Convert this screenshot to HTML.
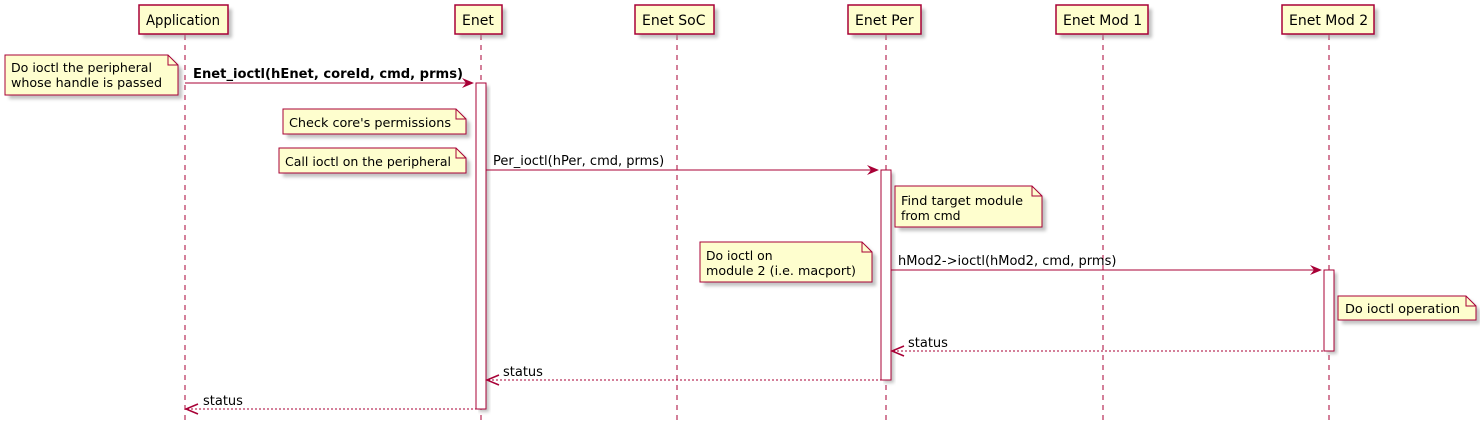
<!DOCTYPE html>
<html><head><meta charset="utf-8"><style>
html,body{margin:0;padding:0;background:#fff;}
svg{display:block;}
text{font-family:"DejaVu Sans","Liberation Sans",sans-serif;font-size:13px;fill:#000;}
text.p{font-size:14px;}
text.n{font-size:12.4px;}
</style></head><body>
<svg width="1480" height="433" viewBox="0 0 1480 433" xmlns="http://www.w3.org/2000/svg">
<defs>
<filter id="sh" x="-10%" y="-10%" width="130%" height="150%"><feGaussianBlur stdDeviation="1.5"/></filter>
</defs>
<g stroke="#A80036" stroke-width="1" stroke-dasharray="5,5" fill="none">
<line x1="185" y1="35" x2="185" y2="425"/>
<line x1="481" y1="35" x2="481" y2="425"/>
<line x1="677" y1="35" x2="677" y2="425"/>
<line x1="886" y1="35" x2="886" y2="425"/>
<line x1="1103" y1="35" x2="1103" y2="425"/>
<line x1="1329" y1="35" x2="1329" y2="425"/>
</g>
<g>
<rect x="143" y="9" width="89" height="29" fill="#999" filter="url(#sh)" opacity="0.6"/>
<rect x="139" y="5" width="89" height="29" fill="#FEFECE" stroke="#A80036" stroke-width="1.5"/>
<text class="p" x="146" y="25" textLength="74" lengthAdjust="spacingAndGlyphs">Application</text>
<rect x="459" y="9" width="47" height="29" fill="#999" filter="url(#sh)" opacity="0.6"/>
<rect x="455" y="5" width="47" height="29" fill="#FEFECE" stroke="#A80036" stroke-width="1.5"/>
<text class="p" x="462" y="25">Enet</text>
<rect x="639" y="9" width="79" height="29" fill="#999" filter="url(#sh)" opacity="0.6"/>
<rect x="635" y="5" width="79" height="29" fill="#FEFECE" stroke="#A80036" stroke-width="1.5"/>
<text class="p" x="642" y="25">Enet SoC</text>
<rect x="852" y="9" width="73" height="29" fill="#999" filter="url(#sh)" opacity="0.6"/>
<rect x="848" y="5" width="73" height="29" fill="#FEFECE" stroke="#A80036" stroke-width="1.5"/>
<text class="p" x="855" y="25">Enet Per</text>
<rect x="1060" y="9" width="92" height="29" fill="#999" filter="url(#sh)" opacity="0.6"/>
<rect x="1056" y="5" width="92" height="29" fill="#FEFECE" stroke="#A80036" stroke-width="1.5"/>
<text class="p" x="1063" y="25">Enet Mod 1</text>
<rect x="1286" y="9" width="92" height="29" fill="#999" filter="url(#sh)" opacity="0.6"/>
<rect x="1282" y="5" width="92" height="29" fill="#FEFECE" stroke="#A80036" stroke-width="1.5"/>
<text class="p" x="1289" y="25">Enet Mod 2</text>
</g>
<g>
<rect x="479" y="86" width="10" height="326" fill="#999" filter="url(#sh)" opacity="0.6"/>
<rect x="476" y="83" width="10" height="326" fill="#fff" stroke="#A80036"/>
<rect x="884" y="173" width="10" height="210" fill="#999" filter="url(#sh)" opacity="0.6"/>
<rect x="881" y="170" width="10" height="210" fill="#fff" stroke="#A80036"/>
<rect x="1327" y="273" width="10" height="81" fill="#999" filter="url(#sh)" opacity="0.6"/>
<rect x="1324" y="270" width="10" height="81" fill="#fff" stroke="#A80036"/>
</g>
<g stroke="#A80036" fill="none">
<line x1="185" y1="83" x2="473" y2="83"/>
<line x1="486" y1="170" x2="878" y2="170"/>
<line x1="891" y1="270" x2="1321" y2="270"/>
<line x1="893" y1="351" x2="1324" y2="351" stroke-dasharray="2,2"/>
<line x1="488" y1="380" x2="881" y2="380" stroke-dasharray="2,2"/>
<line x1="187" y1="409" x2="476" y2="409" stroke-dasharray="2,2"/>
</g>
<g fill="#A80036">
<polygon points="474,83 462,78 466,83 462,88"/>
<polygon points="879,170 867,165 871,170 867,175"/>
<polygon points="1322,270 1310,265 1314,270 1310,275"/>
</g>
<g stroke="#A80036" fill="none" stroke-width="1.5">
<polyline points="904,346 892,351 904,356"/>
<polyline points="499,375 487,380 499,385"/>
<polyline points="198,404 186,409 198,414"/>
</g>
<text x="193" y="78" font-weight="bold" textLength="270" lengthAdjust="spacingAndGlyphs">Enet_ioctl(hEnet, coreId, cmd, prms)</text>
<text x="493" y="165">Per_ioctl(hPer, cmd, prms)</text>
<text x="898" y="265">hMod2-&gt;ioctl(hMod2, cmd, prms)</text>
<text x="908" y="347">status</text>
<text x="503" y="376">status</text>
<text x="203" y="405">status</text>
<g stroke="#A80036" stroke-width="1">
<path d="M9,59 H172 L182,69 V99 H9 Z" fill="#999" stroke="none" filter="url(#sh)" opacity="0.6"/>
<path d="M5,55 H168 L178,65 V95 H5 Z" fill="#FEFECE"/>
<path d="M168,55 V65 H178" fill="none"/>
<path d="M287,113 H460 L470,123 V138 H287 Z" fill="#999" stroke="none" filter="url(#sh)" opacity="0.6"/>
<path d="M283,109 H456 L466,119 V134 H283 Z" fill="#FEFECE"/>
<path d="M456,109 V119 H466" fill="none"/>
<path d="M283,152 H460 L470,162 V177 H283 Z" fill="#999" stroke="none" filter="url(#sh)" opacity="0.6"/>
<path d="M279,148 H456 L466,158 V173 H279 Z" fill="#FEFECE"/>
<path d="M456,148 V158 H466" fill="none"/>
<path d="M899,190 H1036 L1046,200 V231 H899 Z" fill="#999" stroke="none" filter="url(#sh)" opacity="0.6"/>
<path d="M895,186 H1032 L1042,196 V227 H895 Z" fill="#FEFECE"/>
<path d="M1032,186 V196 H1042" fill="none"/>
<path d="M704,246 H866 L876,256 V286 H704 Z" fill="#999" stroke="none" filter="url(#sh)" opacity="0.6"/>
<path d="M700,242 H862 L872,252 V282 H700 Z" fill="#FEFECE"/>
<path d="M862,242 V252 H872" fill="none"/>
<path d="M1342,300 H1470 L1480,310 V324 H1342 Z" fill="#999" stroke="none" filter="url(#sh)" opacity="0.6"/>
<path d="M1338,296 H1466 L1476,306 V320 H1338 Z" fill="#FEFECE"/>
<path d="M1466,296 V306 H1476" fill="none"/>
</g>
<text class="n" x="11" y="72" textLength="141" lengthAdjust="spacingAndGlyphs">Do ioctl the peripheral</text>
<text class="n" x="11" y="87" textLength="151" lengthAdjust="spacingAndGlyphs">whose handle is passed</text>
<text class="n" x="289" y="127" textLength="162" lengthAdjust="spacingAndGlyphs">Check core's permissions</text>
<text class="n" x="285" y="166" textLength="166" lengthAdjust="spacingAndGlyphs">Call ioctl on the peripheral</text>
<text class="n" x="901" y="205" textLength="122" lengthAdjust="spacingAndGlyphs">Find target module</text>
<text class="n" x="901" y="220">from cmd</text>
<text class="n" x="706" y="260">Do ioctl on</text>
<text class="n" x="706" y="275" textLength="150" lengthAdjust="spacingAndGlyphs">module 2 (i.e. macport)</text>
<text class="n" x="1345" y="313" textLength="115" lengthAdjust="spacingAndGlyphs">Do ioctl operation</text>
</svg>
</body></html>
